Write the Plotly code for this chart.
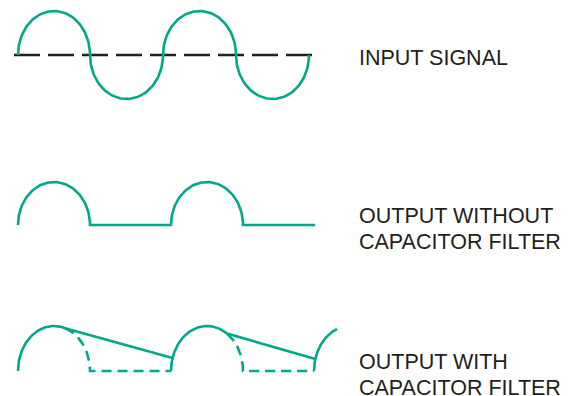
import numpy as np
import plotly.graph_objects as go

# ---------------- data (time units, amplitude units) ----------------
input_crossings = [0, 72, 145, 218, 291]          # zero crossings of the input sine
input_polarity = [1, -1, 1, -1]                    # sign of each half cycle
ref_line_t = [-4, 299]                             # dashed 0 V reference line

rect_hump_starts = [0, 153]                        # half-wave rectified humps
rect_hump_ends = [72, 225]
rect_end = 297

filt_hump_starts = [0, 153, 296]                   # humps with capacitor filter
filt_hump_ends = [72, 225, 368]
filt_discharge_start_t = [47, 209, 319]            # where capacitor starts discharging
filt_discharge_end_t = [154.5, 296.5]
filt_discharge_end_v = [0.29, 0.27]

label_lines = ["INPUT SIGNAL",
               "OUTPUT WITHOUT", "CAPACITOR FILTER",
               "OUTPUT WITH", "CAPACITOR FILTER"]

TEAL = "#00a88a"
BLACK = "#231f20"
W = 568
H = 396


def arc(t0, t1, sign=1, ta=None, tb=None, n=80):
    """Half-elliptic hump between t0 and t1, optionally clipped to [ta, tb]."""
    c = (t0 + t1) / 2
    a = (t1 - t0) / 2
    ta = t0 if ta is None else ta
    tb = t1 if tb is None else tb
    th_a = np.arccos(np.clip((ta - c) / a, -1, 1))
    th_b = np.arccos(np.clip((tb - c) / a, -1, 1))
    th = np.linspace(th_a, th_b, n)
    return list(c + a * np.cos(th)), list(sign * np.sin(th))


def hump_v(t0, t1, t):
    c = (t0 + t1) / 2
    a = (t1 - t0) / 2
    return float(np.sqrt(max(0.0, 1 - ((t - c) / a) ** 2)))


fig = go.Figure()

# ---- panel 1: input signal ----
xs, ys = [], []
for i, s in enumerate(input_polarity):
    ax, ay = arc(input_crossings[i], input_crossings[i + 1], s)
    xs += ax
    ys += ay
fig.add_trace(go.Scatter(x=ref_line_t, y=[0, 0], mode="lines",
                         line=dict(color=BLACK, width=2.6, dash="26px,8px"),
                         xaxis="x", yaxis="y"))
fig.add_trace(go.Scatter(x=xs, y=ys, mode="lines",
                         line=dict(color=TEAL, width=2.6),
                         xaxis="x", yaxis="y"))

# ---- panel 2: output without filter ----
xs, ys = [], []
for i, (t0, t1) in enumerate(zip(rect_hump_starts, rect_hump_ends)):
    ax, ay = arc(t0, t1)
    xs += ax
    ys += ay
    nxt = rect_hump_starts[i + 1] if i + 1 < len(rect_hump_starts) else rect_end
    xs += [t1, nxt]
    ys += [0, 0]
fig.add_trace(go.Scatter(x=xs, y=ys, mode="lines",
                         line=dict(color=TEAL, width=2.6, shape="linear"),
                         xaxis="x", yaxis="y2"))

# ---- panel 3: output with filter ----
for i, (t0, t1) in enumerate(zip(filt_hump_starts, filt_hump_ends)):
    td = filt_discharge_start_t[i]
    # solid rising part of hump
    ax, ay = arc(t0, t1, tb=td)
    fig.add_trace(go.Scatter(x=ax, y=ay, mode="lines",
                             line=dict(color=TEAL, width=2.6),
                             xaxis="x", yaxis="y3"))
    if i < len(filt_discharge_end_t):
        # discharge line
        fig.add_trace(go.Scatter(x=[td, filt_discharge_end_t[i]],
                                 y=[hump_v(t0, t1, td), filt_discharge_end_v[i]],
                                 mode="lines", line=dict(color=TEAL, width=2.6),
                                 xaxis="x", yaxis="y3"))
        # dashed remainder of the rectified wave
        bx, by = arc(t0, t1, ta=td)
        bx += [t1, filt_hump_starts[i + 1]]
        by += [0, 0]
        fig.add_trace(go.Scatter(x=bx, y=by, mode="lines",
                                 line=dict(color=TEAL, width=2.6, dash="10px,6px"),
                                 xaxis="x", yaxis="y3"))


def yax(base_px, amp_px, top_px, bot_px):
    return dict(domain=[1 - bot_px / H, 1 - top_px / H],
                range=[-(bot_px - base_px) / amp_px, (base_px - top_px) / amp_px],
                visible=False, fixedrange=True, anchor="x")


fig.update_layout(
    width=W, height=H,
    margin=dict(l=0, r=0, t=0, b=0),
    paper_bgcolor="white", plot_bgcolor="white",
    showlegend=False,
    xaxis=dict(domain=[0, 1], range=[-18, W - 18], visible=False, fixedrange=True),
    yaxis=yax(55, 44, 0, 120),
    yaxis2=yax(225, 43, 140, 270),
    yaxis3=yax(371, 45, 290, 396),
)

label_y_px = [57.5, 215.5, 242, 361.5, 388]
for txt, py in zip(label_lines, label_y_px):
    fig.add_annotation(text=txt, xref="paper", yref="paper",
                       x=357 / W, y=1 - py / H, xanchor="left", yanchor="middle",
                       align="left", showarrow=False,
                       font=dict(family="Liberation Sans, Arial, sans-serif", size=21.5, color=BLACK))

fig.write_html("out.html", config={"displayModeBar": False},
               post_script="document.body.style.margin='0';document.body.style.overflow='hidden';")
